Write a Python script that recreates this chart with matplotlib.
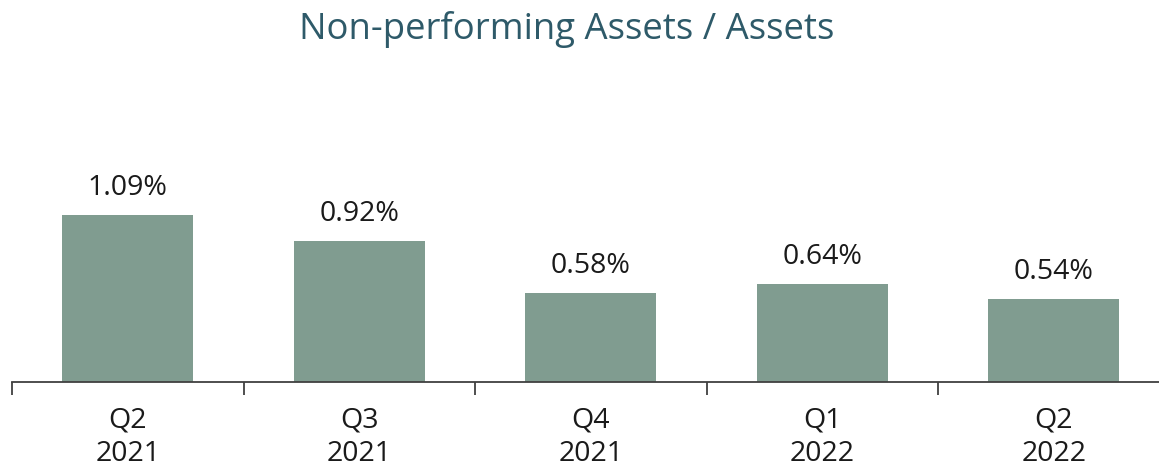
import matplotlib
matplotlib.use("Agg")
import matplotlib.pyplot as plt
from matplotlib.ticker import FixedLocator

categories = ["Q2\n2021", "Q3\n2021", "Q4\n2021", "Q1\n2022", "Q2\n2022"]
values = [1.09, 0.92, 0.58, 0.64, 0.54]
labels = ["1.09%", "0.92%", "0.58%", "0.64%", "0.54%"]

W, H = 1159, 467
fig = plt.figure(figsize=(W / 100, H / 100), dpi=100)
font = "Open Sans"

ax_left = 12 / W
ax_bottom = (H - 382) / H
ax = fig.add_axes([ax_left, ax_bottom, 1 - ax_left, 1 - ax_bottom])

step = 231.5
xmax = -0.5 + (W - 12) / step
x = list(range(len(values)))
ax.bar(x, values, width=131 / step, color="#809c90", zorder=2)
ax.set_xlim(-0.5, xmax)
ax.set_ylim(0, 382 / 153.2)

for xi, v, lab in zip(x, values, labels):
    ax.annotate(lab, (xi, v), xytext=(0, 9.5), textcoords="offset points",
                ha="center", va="bottom", fontsize=20.5, family=font, color="#1a1a1a")

for s in ["top", "right", "left"]:
    ax.spines[s].set_visible(False)
ax.spines["bottom"].set_color("#404040")
ax.spines["bottom"].set_linewidth(1.3)
ax.set_yticks([])
ax.set_xticks(x)
ax.set_xticklabels(categories, fontsize=20.5, family=font, color="#1a1a1a", linespacing=1.22)
ax.tick_params(axis="x", which="major", length=0, pad=18)
ax.xaxis.set_minor_locator(FixedLocator([i - 0.5 for i in range(len(values))]))
ax.tick_params(axis="x", which="minor", length=9, width=1.3, color="#404040", direction="out")

fig.text(567 / W, 1 - 30 / H, "Non-performing Assets / Assets", ha="center", va="center",
         fontsize=26.3, family=font, color="#2e5a69")

fig.savefig("out.png", dpi=100)
